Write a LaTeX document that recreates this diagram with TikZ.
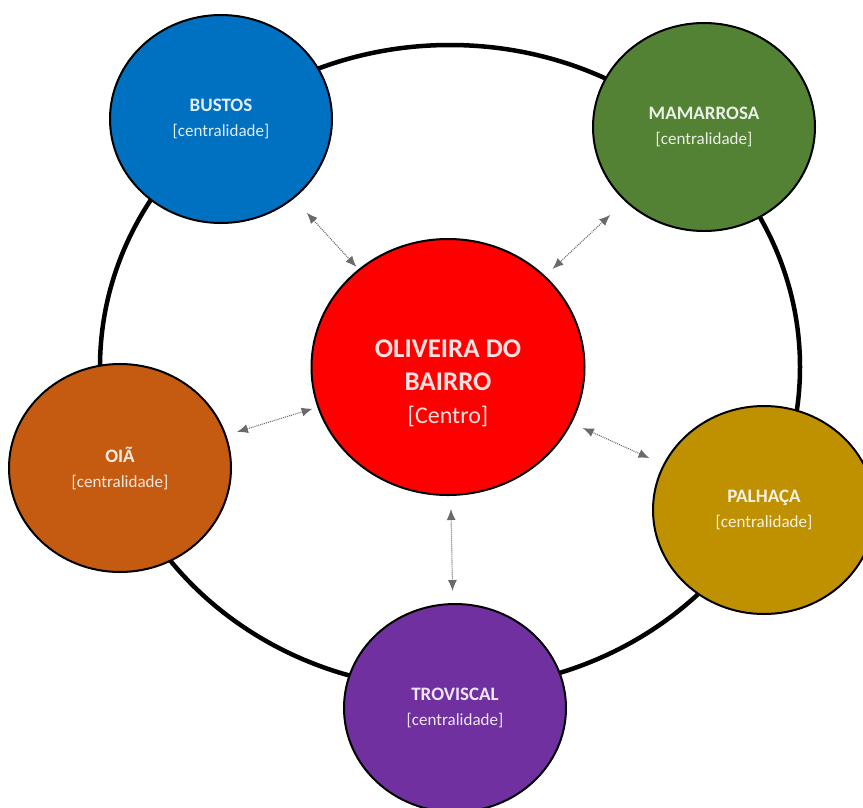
\documentclass[tikz,border=0pt]{standalone}
\usepackage{fontspec}
\setmainfont{Carlito}
\usetikzlibrary{shapes.geometric,arrows.meta}

\definecolor{azul}{HTML}{0070C0}
\definecolor{verde}{HTML}{548235}
\definecolor{vermelho}{HTML}{FF0000}
\definecolor{laranja}{HTML}{C55A11}
\definecolor{dourado}{HTML}{BF9000}
\definecolor{roxo}{HTML}{7030A0}
\definecolor{cinza}{HTML}{6A6A6A}

\begin{document}
\begin{tikzpicture}[x=1pt,y=-1pt]
\tikzset{circ/.style={ellipse,draw=black,line width=2pt,minimum width=222pt,minimum height=208pt,inner sep=0pt,align=center,font=\fontsize{17}{25}\selectfont},
centro/.style={circ,minimum width=273pt,minimum height=256pt},
seta/.style={<->,>={Latex[length=11pt,width=9pt]},draw=cinza,line width=1.1pt,dash pattern=on 1pt off 1pt},
}
\clip (0,0) rectangle (863,807);

% anel exterior
\draw[line width=4.5pt] (450,367) ellipse [x radius=350pt,y radius=322pt];

\node[circ,fill=azul,text=azul!12!white] (bustos) at (221,119) {{\fontsize{19}{25}\selectfont\bfseries BUSTOS}\\{[centralidade]}};
\node[circ,fill=verde,text=verde!12!white] (mama) at (704,127) {{\fontsize{19}{25}\selectfont\bfseries MAMARROSA}\\{[centralidade]}};
\node[circ,fill=laranja,text=laranja!12!white] (oia) at (120,468) {{\fontsize{19}{25}\selectfont\bfseries OIÃ}\\{[centralidade]}};
\node[circ,fill=dourado,text=dourado!12!white] (palh) at (764,510) {{\fontsize{19}{25}\selectfont\bfseries PALHAÇA}\\{[centralidade]}};
\node[circ,fill=roxo,text=roxo!12!white] (trov) at (455,708) {{\fontsize{19}{25}\selectfont\bfseries TROVISCAL}\\{[centralidade]}};

\node[centro,fill=vermelho] (oliv) at (448,367) {};
\node[align=center,text=vermelho!12!white,font=\fontsize{24}{33}\selectfont] (olivtxt) at (448,383) {{\fontsize{27}{33}\selectfont\bfseries OLIVEIRA DO}\\{\fontsize{27}{33}\selectfont\bfseries BAIRRO}\\{[Centro]}};

\path[seta,shorten <=19pt,shorten >=3pt] (bustos) -- (oliv);
\path[seta,shorten <=20pt,shorten >=10pt] (mama) -- (oliv);
\path[seta,shorten <=11pt,shorten >=5pt] (oia) -- (oliv);
\path[seta,shorten <=15pt,shorten >=12pt] (palh) -- (oliv);
\path[seta,shorten <=12pt,shorten >=13pt] (trov) -- (oliv);

\end{tikzpicture}
\end{document}
